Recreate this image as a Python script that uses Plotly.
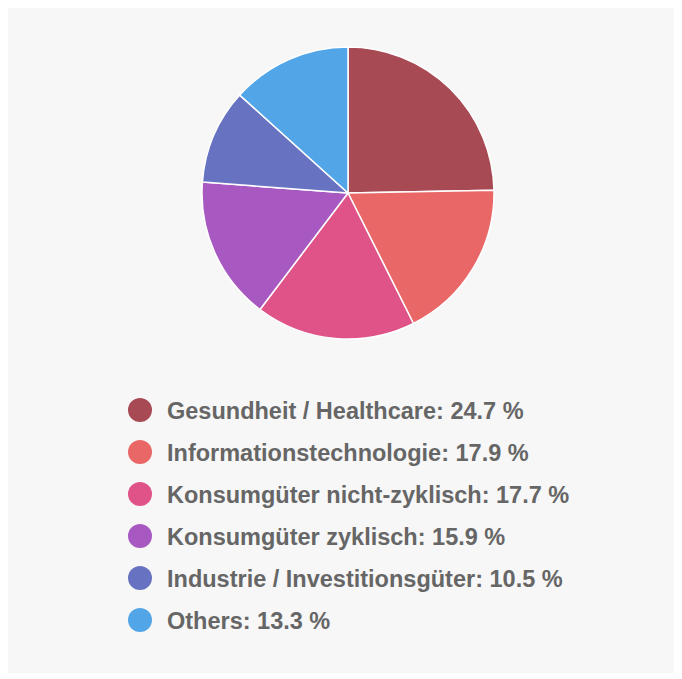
import plotly.graph_objects as go

labels = ["Gesundheit / Healthcare", "Informationstechnologie", "Konsumgüter nicht-zyklisch",
          "Konsumgüter zyklisch", "Industrie / Investitionsgüter", "Others"]
values = [24.7, 17.9, 17.7, 15.9, 10.5, 13.3]
colors = ["#A84A54", "#EA6767", "#E05388", "#A759C1", "#6773C1", "#52A6E8"]

OX, OY = 8, 8           # page offset of the figure
W, H = 667, 665

def px(x):
    return (x - OX) / W

def py(y):
    return 1 - (y - OY) / H

fig = go.Figure()
fig.add_trace(go.Pie(
    labels=labels, values=values, sort=False, direction="clockwise", rotation=0,
    marker=dict(colors=colors, line=dict(color="white", width=1.5)),
    textinfo="none", hoverinfo="label+percent", showlegend=False,
    domain=dict(x=[px(202), px(494)], y=[py(339), py(47)]),
))

shapes = []
annotations = []
r = 12
for i, (lab, val, col) in enumerate(zip(labels, values, colors)):
    yc = 410 + 42 * i
    shapes.append(dict(type="circle", xref="paper", yref="paper",
                       x0=px(140 - r), x1=px(140 + r), y0=py(yc + r), y1=py(yc - r),
                       fillcolor=col, line=dict(width=0)))
    annotations.append(dict(xref="paper", yref="paper", x=px(165), y=py(yc + 1),
                            xanchor="left", yanchor="middle", showarrow=False,
                            text=f"<b>{lab}: {val} %</b>",
                            font=dict(family="Liberation Sans, Arial", size=23.5, color="#666666")))

fig.update_layout(
    width=W, height=H, margin=dict(l=0, r=0, t=0, b=0),
    paper_bgcolor="#F7F7F7", plot_bgcolor="#F7F7F7",
    shapes=shapes, annotations=annotations,
)
fig.write_html("out.html")
